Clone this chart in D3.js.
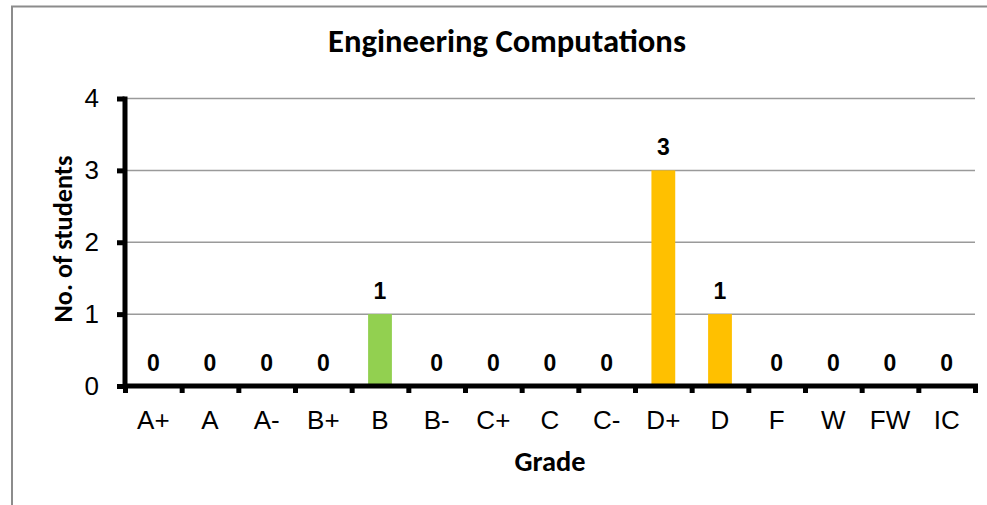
<!DOCTYPE html>
<html>
<head>
<meta charset="utf-8">
<script src="https://cdn.jsdelivr.net/npm/d3@7"></script>
<style>
  html, body { margin: 0; padding: 0; background: #fff; }
  svg { display: block; }
</style>
</head>
<body>
<svg id="chart" width="987" height="505"></svg>
<script>
// ---- data ----
const grades = ["A+", "A", "A-", "B+", "B", "B-", "C+", "C", "C-", "D+", "D", "F", "W", "FW", "IC"];
const students = [0, 0, 0, 0, 1, 0, 0, 0, 0, 3, 1, 0, 0, 0, 0];
const yTicks = [0, 1, 2, 3, 4];
const chartTitle = "Engineering Computations";
const xTitle = "Grade";
const yTitle = "No. of students";

// ---- style ----
const GREEN = "#92D050", ORANGE = "#FFC000";
const gradeColor = g => (g.startsWith("B") ? GREEN : ORANGE);
const ARIAL = "Liberation Sans, Arial, Helvetica, sans-serif";
const CALIBRI = "Carlito, Calibri, Lato, sans-serif";

const svg = d3.select("#chart");
const plot = { left: 125, right: 975, top: 98.5, bottom: 386 };

svg.append("rect")
  .attr("x", 12).attr("y", 6.5)
  .attr("width", 1100).attr("height", 600)
  .attr("fill", "#fff").attr("stroke", "#8c8c8c").attr("stroke-width", 2);

const x = d3.scaleBand().domain(grades).range([plot.left, plot.right])
  .paddingInner(0.58).paddingOuter(0.29);
const xb = d3.scaleLinear().domain([0, grades.length]).range([plot.left, plot.right]);
const y = d3.scaleLinear().domain([0, 4]).range([plot.bottom, plot.top]);

svg.append("g").selectAll("line")
  .data(yTicks.filter(t => t > 0))
  .join("line")
  .attr("x1", plot.left).attr("x2", plot.right)
  .attr("y1", d => y(d)).attr("y2", d => y(d))
  .attr("stroke", "#9a9a9a").attr("stroke-width", 1.5);

svg.append("g").selectAll("rect")
  .data(grades.map((g, i) => ({ g, v: students[i] })))
  .join("rect")
  .attr("x", d => x(d.g))
  .attr("width", x.bandwidth())
  .attr("y", d => y(d.v))
  .attr("height", d => y(0) - y(d.v))
  .attr("fill", d => gradeColor(d.g));

svg.append("g").selectAll("text")
  .data(grades.map((g, i) => ({ g, v: students[i] })))
  .join("text")
  .attr("x", d => x(d.g) + x.bandwidth() / 2)
  .attr("y", d => y(d.v) - 15.5)
  .attr("text-anchor", "middle")
  .style("font-family", ARIAL)
  .style("font-weight", "bold")
  .style("font-size", "23px")
  .attr("fill", "#000")
  .text(d => d.v);

const xTickAxis = svg.append("g")
  .attr("transform", `translate(0,${plot.bottom - 0.5})`)
  .call(d3.axisBottom(xb).tickValues(d3.range(grades.length + 1)).tickFormat("").tickSize(7.5).tickSizeOuter(0));
xTickAxis.selectAll(".tick line").attr("stroke", "#000").attr("stroke-width", 5);
xTickAxis.select(".domain").attr("stroke", "#000").attr("stroke-width", 5).attr("stroke-linecap", "square");

const xLab = svg.append("g")
  .attr("transform", `translate(0,${plot.bottom - 0.5})`)
  .call(d3.axisBottom(x).tickSize(0).tickPadding(25.5));
xLab.select(".domain").remove();
xLab.attr("font-family", null).attr("font-size", null);
xLab.selectAll("text")
  .style("font-family", ARIAL)
  .style("font-size", "26px").attr("fill", "#000");

const yAx = svg.append("g")
  .attr("transform", `translate(${plot.left - 0.5},0)`)
  .call(d3.axisLeft(y).tickValues(yTicks).tickFormat(d3.format("d")).tickSize(7.5).tickSizeOuter(0).tickPadding(18));
yAx.attr("font-family", null).attr("font-size", null);
yAx.select(".domain").attr("stroke", "#000").attr("stroke-width", 5).attr("stroke-linecap", "square");
yAx.selectAll(".tick line").attr("stroke", "#000").attr("stroke-width", 5);
yAx.selectAll("text")
  .style("font-family", ARIAL)
  .style("font-size", "26px").attr("fill", "#000");

function fit(sel, target) {
  const w = sel.node().getComputedTextLength();
  const fs = parseFloat(sel.attr("font-size"));
  sel.attr("font-size", (fs * target / w).toFixed(2));
}

const t = svg.append("text")
  .attr("x", 507).attr("y", 52)
  .attr("text-anchor", "middle")
  .attr("font-family", CALIBRI).attr("font-weight", "bold")
  .attr("font-size", 28).attr("fill", "#000")
  .text(chartTitle);
fit(t, 358);

const xt = svg.append("text")
  .attr("x", (plot.left + plot.right) / 2).attr("y", 471)
  .attr("text-anchor", "middle")
  .attr("font-family", CALIBRI).attr("font-weight", "bold")
  .attr("font-size", 22).attr("fill", "#000")
  .text(xTitle);
fit(xt, 71);

const yt = svg.append("text")
  .attr("transform", `translate(72,239) rotate(-90)`)
  .attr("text-anchor", "middle")
  .attr("font-family", CALIBRI).attr("font-weight", "bold")
  .attr("font-size", 22).attr("fill", "#000")
  .text(yTitle);
fit(yt, 167);
</script>
</body>
</html>
